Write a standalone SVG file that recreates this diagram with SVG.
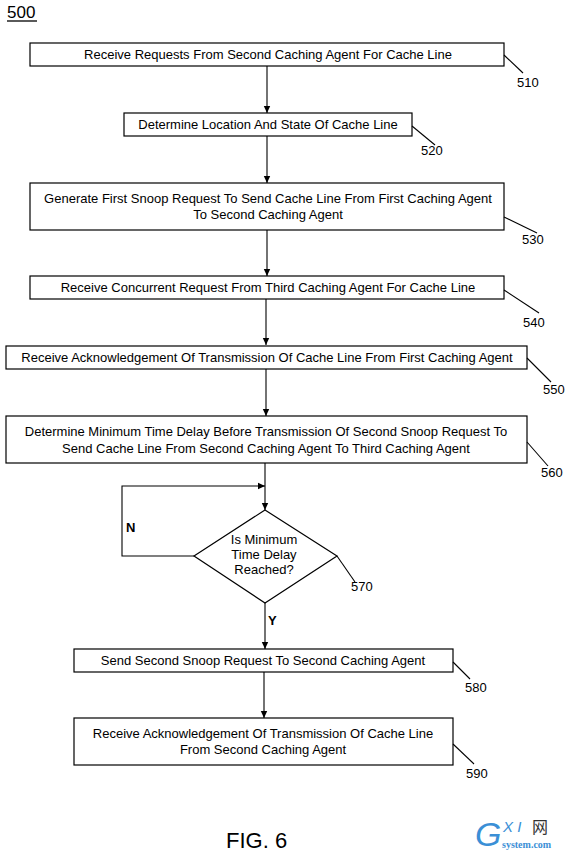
<svg xmlns="http://www.w3.org/2000/svg" width="569" height="853" viewBox="0 0 569 853">
<defs>
<marker id="ah" markerWidth="8" markerHeight="8" refX="7" refY="4" orient="auto" markerUnits="userSpaceOnUse">
<path d="M0,0.8 L7,4 L0,7.2 Z" fill="#000"/>
</marker>
<style>
.box{fill:#fff;stroke:#000;stroke-width:1.2}
.t{font-family:"Liberation Sans",Arial,sans-serif;font-size:13px;fill:#000;text-anchor:middle}
.n{font-family:"Liberation Sans",Arial,sans-serif;font-size:13px;fill:#000}
.b{font-family:"Liberation Sans",Arial,sans-serif;font-size:13px;font-weight:bold;fill:#000}
.ln{fill:none;stroke:#000;stroke-width:1.1}
.c{fill:none;stroke:#000;stroke-width:1.1;marker-end:url(#ah)}
</style>
</defs>
<rect width="569" height="853" fill="#fff"/>
<g id="title">
<text x="7" y="18" font-family="Liberation Sans,Arial,sans-serif" font-size="17" fill="#000">500</text>
<line x1="7" y1="21" x2="37" y2="21" stroke="#000" stroke-width="1.3"/>
</g>
<g id="connectors">
<line class="c" x1="267" y1="66" x2="267" y2="113"/>
<line class="c" x1="267" y1="136" x2="267" y2="183"/>
<line class="c" x1="267" y1="230" x2="267" y2="276"/>
<line class="c" x1="266" y1="299" x2="266" y2="345"/>
<line class="c" x1="266" y1="369" x2="266" y2="416"/>
<line class="c" x1="265" y1="463" x2="265" y2="510"/>
<path class="c" d="M194,556 H122 V486 H265"/>
<line class="c" x1="265" y1="603" x2="265" y2="649"/>
<line class="c" x1="264" y1="672" x2="264" y2="718"/>
</g>
<g id="n510">
<rect class="box" x="30" y="43" width="474" height="23"/>
<text class="t" x="268" y="59">Receive Requests From Second Caching Agent For Cache Line</text>
<line class="ln" x1="504" y1="55" x2="523" y2="73"/>
<text class="n" x="517" y="87">510</text>
</g>
<g id="n520">
<rect class="box" x="124" y="113" width="288" height="23"/>
<text class="t" x="268" y="129">Determine Location And State Of Cache Line</text>
<line class="ln" x1="412" y1="126" x2="435" y2="145"/>
<text class="n" x="421" y="155">520</text>
</g>
<g id="n530">
<rect class="box" x="30" y="183" width="474" height="47"/>
<text class="t" x="268" y="203">Generate First Snoop Request To Send Cache Line From First Caching Agent</text>
<text class="t" x="268" y="219">To Second Caching Agent</text>
<line class="ln" x1="504" y1="217" x2="537" y2="233"/>
<text class="n" x="522" y="244">530</text>
</g>
<g id="n540">
<rect class="box" x="30" y="276" width="474" height="23"/>
<text class="t" x="268" y="292">Receive Concurrent Request From Third Caching Agent For Cache Line</text>
<line class="ln" x1="504" y1="290" x2="539" y2="313"/>
<text class="n" x="523" y="327">540</text>
</g>
<g id="n550">
<rect class="box" x="6" y="346" width="521" height="23"/>
<text class="t" x="267" y="362">Receive Acknowledgement Of Transmission Of Cache Line From First Caching Agent</text>
<line class="ln" x1="527" y1="358" x2="551" y2="382"/>
<text class="n" x="543" y="394">550</text>
</g>
<g id="n560">
<rect class="box" x="6" y="416" width="521" height="47"/>
<text class="t" x="266" y="436">Determine Minimum Time Delay Before Transmission Of Second Snoop Request To</text>
<text class="t" x="266" y="453">Send Cache Line From Second Caching Agent To Third Caching Agent</text>
<line class="ln" x1="527" y1="442" x2="548" y2="466"/>
<text class="n" x="541" y="477">560</text>
</g>
<g id="n570">
<polygon class="box" points="265,510 337,556 265,603 194,556"/>
<text class="t" x="264" y="544">Is Minimum</text>
<text class="t" x="264" y="559">Time Delay</text>
<text class="t" x="264" y="574">Reached?</text>
<line class="ln" x1="337" y1="556" x2="355" y2="582"/>
<text class="n" x="351" y="591">570</text>
<text class="b" x="126" y="532">N</text>
<text class="b" x="268" y="625">Y</text>
</g>
<g id="n580">
<rect class="box" x="74" y="649" width="379" height="23"/>
<text class="t" x="263" y="665">Send Second Snoop Request To Second Caching Agent</text>
<line class="ln" x1="453" y1="662" x2="470" y2="679"/>
<text class="n" x="465" y="692">580</text>
</g>
<g id="n590">
<rect class="box" x="74" y="718" width="379" height="47"/>
<text class="t" x="263" y="738">Receive Acknowledgement Of Transmission Of Cache Line</text>
<text class="t" x="263" y="754">From Second Caching Agent</text>
<line class="ln" x1="453" y1="744" x2="474" y2="764"/>
<text class="n" x="466" y="778">590</text>
</g>
<g id="caption">
<text x="226" y="848" font-family="Liberation Sans,Arial,sans-serif" font-size="22" fill="#000">FIG. 6</text>
</g>
<g id="watermark">
<text x="475" y="846" font-family="Liberation Sans,Arial,sans-serif" font-size="34" font-style="italic" fill="#3b8fd6">G</text>
<text x="503" y="832" font-family="Liberation Sans,Arial,sans-serif" font-size="15" font-style="italic" fill="#3b8fd6">X I</text>
<text x="532" y="833" font-family="Noto Sans CJK SC,sans-serif" font-size="16" fill="#333">网</text>
<text x="502" y="848" font-family="Liberation Serif,serif" font-size="10" font-weight="bold" fill="#3b8fd6">system.com</text>
</g>
</svg>
